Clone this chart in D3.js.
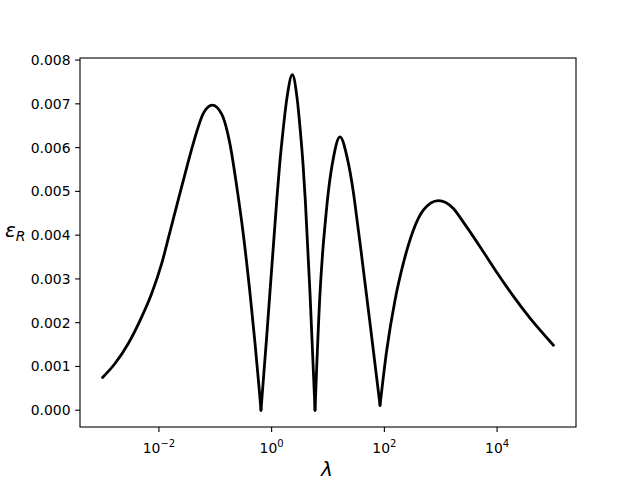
<!DOCTYPE html>
<html>
<head>
<meta charset="utf-8">
<script src="https://cdn.jsdelivr.net/npm/d3@7"></script>
<style>
  body { margin: 0; background: #fff; }
  svg { display: block; }
  text { font-family: "DejaVu Sans", sans-serif; fill: #000; }
</style>
</head>
<body>
<svg id="chart" width="640" height="480"></svg>
<script>
// log10 of lambda for each sampled point
const log10Lambda = [-3.0, -2.779, -2.543, -2.305, -2.128, -1.950, -1.803, -1.656, -1.507, -1.360,
  -1.212, -1.053, -0.886, -0.739, -0.620, -0.503, -0.384, -0.295, -0.219, -0.189,
  -0.087, 0.090, 0.143, 0.202, 0.273, 0.367, 0.450, 0.509, 0.557, 0.598, 0.681, 0.770,
  0.858, 0.906, 0.947, 1.006, 1.094, 1.213, 1.343, 1.449, 1.527, 1.580, 1.804, 1.923,
  2.042, 2.189, 2.336, 2.514, 2.691, 2.957, 3.224, 3.401, 3.697, 3.993, 4.288, 4.584, 5.0];
// epsilon_R values
const epsR = [0.000747, 0.001067, 0.001525, 0.002133, 0.002667, 0.003353, 0.00408, 0.004811, 0.005543, 0.006229,
  0.006782, 0.006971, 0.006766, 0.00608, 0.00512, 0.004023, 0.002674, 0.001531, 0.000457, 0.0,
  0.001691, 0.004784, 0.005623, 0.006384, 0.007147, 0.007664, 0.007147, 0.006384, 0.005623, 0.004784, 0.002667, 0.0,
  0.002667, 0.003618, 0.004229, 0.00499, 0.005753, 0.006247, 0.005753, 0.00499, 0.004229, 0.003703, 0.001371, 0.000114,
  0.001371, 0.002514, 0.003353, 0.004114, 0.004571, 0.004789, 0.00461, 0.004297, 0.003737, 0.003154, 0.002606, 0.002103, 0.001486];
const xTickExps = [-2, 0, 2, 4];
const yTicks = [0.000, 0.001, 0.002, 0.003, 0.004, 0.005, 0.006, 0.007, 0.008];

const data = log10Lambda.map((e, i) => ({ lam: Math.pow(10, e), v: epsR[i] }));

const L = 80, R = 576, T = 58, B = 427;
const svg = d3.select("#chart");

const lamMin = d3.min(data, d => d.lam), lamMax = d3.max(data, d => d.lam);
const lspan = Math.log10(lamMax) - Math.log10(lamMin);
const x = d3.scaleLog()
  .domain([Math.pow(10, Math.log10(lamMin) - 0.05 * lspan), Math.pow(10, Math.log10(lamMax) + 0.05 * lspan)])
  .range([L, R]);
const vMin = 0, vMax = d3.max(epsR);
const vspan = vMax - vMin;
const y = d3.scaleLinear().domain([vMin - 0.05 * vspan, vMax + 0.05 * vspan]).range([B, T]);

// split curve at local minima (cusps)
const segments = [];
let cur = [data[0]];
for (let i = 1; i < data.length; i++) {
  cur.push(data[i]);
  if (i < data.length - 1 && data[i].v < data[i - 1].v && data[i].v < data[i + 1].v) {
    segments.push(cur);
    cur = [data[i]];
  }
}
segments.push(cur);

const line = d3.line().x(d => x(d.lam)).y(d => y(d.v)).curve(d3.curveMonotoneX);
svg.append("g").selectAll("path").data(segments).join("path")
  .attr("d", line)
  .attr("fill", "none")
  .attr("stroke", "#000")
  .attr("stroke-width", 2.8)
  .attr("stroke-linecap", "round")
  .attr("stroke-linejoin", "round");

// frame
svg.append("rect").attr("x", L).attr("y", T).attr("width", R - L).attr("height", B - T)
  .attr("fill", "none").attr("stroke", "#000").attr("stroke-width", 1.1);

// x ticks
const xt = svg.append("g");
xTickExps.forEach(e => {
  const px = x(Math.pow(10, e));
  xt.append("line").attr("x1", px).attr("x2", px).attr("y1", B).attr("y2", B + 4.9)
    .attr("stroke", "#000").attr("stroke-width", 1.1);
  const t = xt.append("text").attr("x", px).attr("y", B + 26).attr("text-anchor", "middle")
    .attr("font-size", "13.9px");
  t.append("tspan").text("10");
  t.append("tspan").attr("dy", -6).attr("font-size", "10px").text(e < 0 ? "\u2212" + Math.abs(e) : String(e));
});

// y ticks
const yt = svg.append("g");
yTicks.forEach(v => {
  const py = y(v);
  yt.append("line").attr("x1", L - 4.9).attr("x2", L).attr("y1", py).attr("y2", py)
    .attr("stroke", "#000").attr("stroke-width", 1.1);
  yt.append("text").attr("x", L - 9.5).attr("y", py + 5).attr("text-anchor", "end")
    .attr("font-size", "13.9px").text(v.toFixed(3));
});

// axis labels
svg.append("text").attr("x", 327).attr("y", 476).attr("text-anchor", "middle")
  .attr("font-size", "20px").attr("font-style", "italic").text("\u03bb");
const yl = svg.append("text").attr("x", 5).attr("y", 237).attr("font-size", "20px").attr("font-style", "italic");
yl.append("tspan").text("\u03b5");
yl.append("tspan").attr("dy", 4).attr("font-size", "14px").text("R");
</script>
</body>
</html>
